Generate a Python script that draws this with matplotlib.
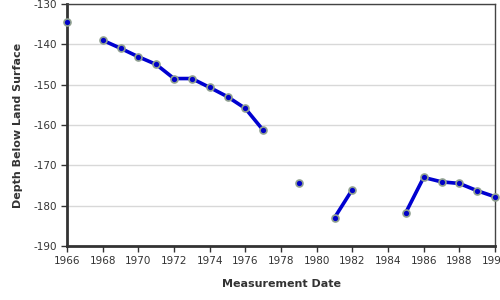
import numpy as np
import matplotlib.pyplot as plt

plt.rcParams['axes.unicode_minus'] = False

# lata pomiarow (brak pomiaru = NaN)
years = [1966, 1967, 1968, 1969, 1970, 1971, 1972, 1973, 1974, 1975, 1976, 1977,
         1978, 1979, 1980, 1981, 1982, 1983, 1984, 1985, 1986, 1987, 1988, 1989, 1990]
depth = [-134.4, np.nan, -139.0, -141.0, -143.1, -145.0, -148.5, -148.5, -150.7, -153.0,
         -155.9, -161.3, np.nan, -174.3, np.nan, -183.0, -176.0, np.nan, np.nan,
         -181.7, -173.0, -174.1, -174.5, -176.3, -177.8]
xticks = list(range(1966, 1991, 2))
yticks = [-130, -140, -150, -160, -170, -180, -190]

fig = plt.figure(figsize=(5, 3), dpi=100)
ax = fig.add_axes([0.134, 0.18, 0.856, 0.807])

ax.plot(years, depth, '-', color='#0000d0', lw=2.6, zorder=3)
ax.plot(years, depth, 'o', color='#0000c8', markersize=5, clip_on=False,
        markeredgecolor='#90a090', markeredgewidth=1.2, zorder=4)

ax.set_xlim(1966, 1990)
ax.set_ylim(-190, -130)
ax.set_xticks(xticks)
ax.set_yticks(yticks)
ax.tick_params(labelsize=7.5, colors='#333333', length=4, width=1)
ax.grid(axis='y', color='#d8d8d8', lw=1)
ax.set_axisbelow(True)

for s in ['left', 'bottom']:
    ax.spines[s].set_linewidth(2)
    ax.spines[s].set_color('#333333')
for s in ['top', 'right']:
    ax.spines[s].set_linewidth(1)
    ax.spines[s].set_color('#444444')

ax.set_xlabel('Measurement Date', fontsize=8, fontweight='bold', color='#333333', labelpad=9)
ax.set_ylabel('Depth Below Land Surface', fontsize=8, fontweight='bold', color='#333333', labelpad=7)

fig.savefig('out.png', dpi=100)
